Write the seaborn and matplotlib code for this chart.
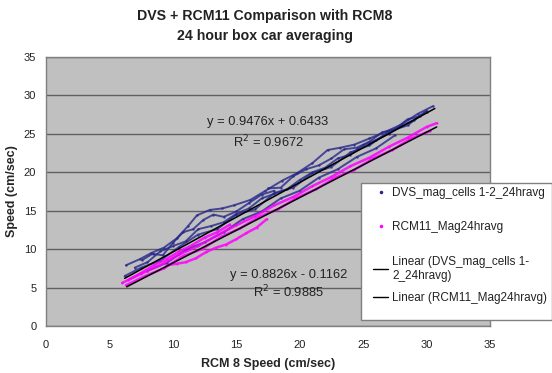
import numpy as np
import pandas as pd
import matplotlib
matplotlib.use("Agg")
import matplotlib.pyplot as plt
from matplotlib.lines import Line2D
from matplotlib.patches import Rectangle
import seaborn as sns

# ---------------- data ----------------
dvs_traces = {
    "B1": ([6.3, 7.4, 8.3, 9.3, 10.3, 11.2, 11.9, 12.9, 13.9, 14.8, 16.1, 17.3, 18.6, 19.8, 21.0, 22.2, 23.2, 24.3, 25.5, 26.8, 28.0, 29.3, 30.5],
           [7.9, 8.7, 9.5, 10.2, 11.4, 13.0, 14.4, 15.1, 15.3, 15.7, 16.4, 17.6, 18.9, 19.9, 21.2, 22.9, 23.2, 23.6, 24.4, 25.3, 26.2, 27.6, 28.6]),
    "B2": ([7.0, 8.0, 9.0, 10.0, 11.0, 12.0, 13.0, 14.0, 15.0, 16.0, 17.0, 18.0, 19.0, 20.0, 21.0, 22.0, 23.0, 24.0, 25.0, 26.0, 27.0, 28.0, 29.0, 30.0],
           [7.6, 8.3, 9.7, 10.4, 11.0, 12.6, 13.0, 13.5, 14.6, 15.3, 16.6, 17.2, 17.8, 19.0, 20.0, 20.6, 21.8, 22.3, 23.5, 24.2, 25.0, 26.0, 26.8, 27.9]),
    "B3": ([6.2, 7.5, 9.0, 10.5, 12.0, 13.5, 15.0, 16.5, 18.0, 19.5, 21.0, 22.5, 24.0, 25.5, 27.0, 28.5, 30.0],
           [6.5, 7.6, 8.5, 10.3, 11.9, 12.6, 14.5, 15.2, 17.3, 18.0, 19.9, 20.7, 22.6, 23.5, 25.3, 26.1, 28.0]),
    "B4": ([8.0, 9.5, 11.0, 12.5, 14.0, 15.5, 17.0, 18.5, 20.0, 21.5, 23.0, 24.5, 26.0, 27.5],
           [7.2, 8.2, 9.9, 10.9, 12.2, 13.9, 14.9, 16.6, 17.6, 19.3, 20.4, 22.0, 23.1, 24.8]),
    "B5": ([7.6, 8.4, 9.2, 10.0, 10.8, 11.6, 12.4, 13.2, 14.0, 15.0, 16.0, 17.0, 18.0],
           [8.6, 9.4, 9.2, 10.8, 12.2, 12.6, 13.8, 14.5, 14.2, 14.9, 16.0, 17.1, 17.6]),
    "B6": ([17.5, 18.5, 19.5, 20.5, 21.5, 22.5, 23.5, 24.5, 25.5, 26.5, 27.5, 28.5, 29.5],
           [17.9, 18.0, 19.5, 20.4, 20.9, 21.8, 23.0, 23.2, 24.0, 25.2, 25.6, 26.9, 27.3]),
}
rcm_traces = {
    "M1": ([6.0, 7.5, 9.0, 10.5, 12.0, 13.5, 15.0, 16.5, 18.0, 19.5, 21.0, 22.5, 24.0, 25.5, 27.0, 28.5, 30.0, 30.8],
           [5.6, 6.8, 7.9, 9.3, 10.4, 11.8, 13.1, 14.3, 15.7, 16.8, 18.2, 19.4, 20.8, 21.9, 23.3, 24.5, 25.9, 26.4]),
    "M2": ([6.3, 7.8, 9.3, 10.8, 12.3, 13.8, 15.3, 16.8, 18.3, 19.8, 21.3, 22.8, 24.3, 25.8, 27.3, 28.8, 30.3],
           [5.3, 6.5, 7.5, 9.1, 10.0, 11.6, 12.7, 14.2, 15.2, 16.7, 17.8, 19.3, 20.3, 21.8, 22.9, 24.4, 25.4]),
    "M3": ([9.5, 10.3, 11.0, 11.8, 12.6, 13.4, 14.2, 15.0, 15.8, 16.6, 17.4],
           [7.9, 8.1, 8.3, 8.8, 9.6, 10.2, 10.6, 11.3, 12.1, 12.8, 13.9]),
    "M4": ([6.5, 7.5, 8.5, 9.5, 10.5, 11.5, 12.5, 13.5, 14.5],
           [6.0, 6.9, 7.9, 8.7, 9.7, 10.5, 11.5, 12.2, 13.2]),
}
# trend lines as drawn in the picture (end points)
dvs_trend_x = [6.2, 30.65]
dvs_trend_y = [6.2, 28.3]
rcm_trend_x = [6.36, 30.8]
rcm_trend_y = [5.1, 25.9]

title = "DVS + RCM11 Comparison with RCM8\n24 hour box car averaging"
x_label = "RCM 8 Speed (cm/sec)"
y_label = "Speed (cm/sec)"
legend_labels = ["DVS_mag_cells 1-2_24hravg", "RCM11_Mag24hravg",
                 "Linear (DVS_mag_cells 1-\n2_24hravg)", "Linear (RCM11_Mag24hravg)"]
eq_dvs = ["y = 0.9476x + 0.6433", "R$^2$ = 0.9672"]
eq_rcm = ["y = 0.8826x - 0.1162", "R$^2$ = 0.9885"]
ticks = [0, 5, 10, 15, 20, 25, 30, 35]

# ---------------- plotting ----------------
sns.set_style("white")
plt.rcParams["font.family"] = ["Liberation Sans", "DejaVu Sans"]

def to_df(traces):
    rows = []
    for k, (xs, ys) in traces.items():
        for i, (a, b) in enumerate(zip(xs, ys)):
            rows.append((k, i, a, b))
    return pd.DataFrame(rows, columns=["trace", "i", "x", "y"])

dvs_df = to_df(dvs_traces)
rcm_df = to_df(rcm_traces)

fig = plt.figure(figsize=(5.52, 3.73), dpi=100)
ax = fig.add_axes([46 / 552, 1 - 326 / 373, 444 / 552, 269 / 373])
ax.set_facecolor("#c0c0c0")

blue = "#26268a"
mag = "#ff00ff"
sns.lineplot(data=dvs_df, x="x", y="y", units="trace", estimator=None, sort=False,
             color=blue, lw=1.4, alpha=0.8, marker=".", markersize=3.5,
             markeredgewidth=0, ax=ax, legend=False)
sns.lineplot(data=rcm_df, x="x", y="y", units="trace", estimator=None, sort=False,
             color=mag, lw=1.8, alpha=0.85, marker=".", markersize=3,
             markeredgewidth=0, ax=ax, legend=False)
ax.plot(dvs_trend_x, dvs_trend_y, color="black", lw=1.1)
ax.plot(rcm_trend_x, rcm_trend_y, color="black", lw=1.1)

ax.set_xlim(0, 35)
ax.set_ylim(0, 35)
ax.set_xticks(ticks)
ax.set_yticks(ticks)
ax.yaxis.grid(True, color="#606060", lw=1.0)
ax.xaxis.grid(False)
ax.set_axisbelow(True)
for s in ax.spines.values():
    s.set_color("#808080")
    s.set_linewidth(1.0)
ax.tick_params(axis="both", direction="out", length=4, width=0.8, color="#808080",
               labelsize=8, labelcolor="#222222", pad=3)
ax.tick_params(axis="x", pad=6)
ax.set_xlabel(x_label, fontsize=9, fontweight="bold", labelpad=6)
ax.set_ylabel(y_label, fontsize=9, fontweight="bold", labelpad=4)

fig.text(265 / 552, 1 - 26 / 373, title, ha="center", va="center",
         fontsize=10.2, fontweight="bold", linespacing=1.5, color="#222222")

ax.text(17.5, 26.5, eq_dvs[0], ha="center", va="center", fontsize=9.3, color="#222222")
ax.text(17.5, 24.0, eq_dvs[1], ha="center", va="center", fontsize=9.3, color="#222222")
ax.text(19.1, 6.7, eq_rcm[0], ha="center", va="center", fontsize=9.3, color="#222222")
ax.text(19.1, 4.4, eq_rcm[1], ha="center", va="center", fontsize=9.3, color="#222222")

# legend box
fig.patches.append(Rectangle((361 / 552, 1 - 320 / 373), 191 / 552, 137 / 373,
                             transform=fig.transFigure, facecolor="white",
                             edgecolor="#808080", lw=1.0, zorder=5))
handles = [
    Line2D([], [], color=blue, marker=".", ls="none", markersize=3),
    Line2D([], [], color=mag, marker=".", ls="none", markersize=3),
    Line2D([], [], color="black", lw=1.0),
    Line2D([], [], color="black", lw=1.0),
]
leg_kw = dict(loc="upper left", frameon=False, fontsize=8.5, handlelength=1.3,
              handletextpad=0.35, labelspacing=1.9, borderaxespad=0, borderpad=0.5)
leg1 = fig.legend(handles[:3], legend_labels[:3],
                  bbox_to_anchor=(367 / 552, 1 - 181 / 373), **leg_kw)
leg2 = fig.legend(handles[3:], legend_labels[3:],
                  bbox_to_anchor=(367 / 552, 1 - 286 / 373), **leg_kw)
for leg in (leg1, leg2):
    leg.set_zorder(6)
    for t in leg.get_texts():
        t.set_color("#222222")

fig.savefig("out.png", dpi=100)
